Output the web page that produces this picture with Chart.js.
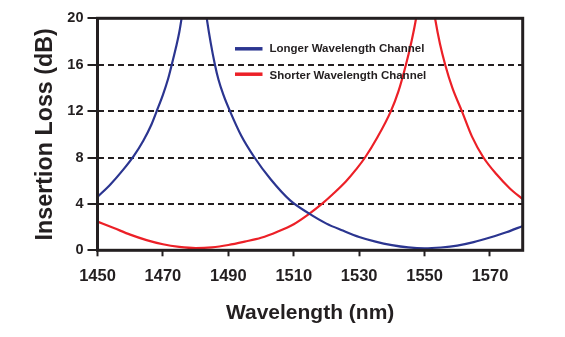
<!DOCTYPE html>
<html>
<head>
<meta charset="utf-8">
<script src="https://cdn.jsdelivr.net/npm/chart.js@4.4.1/dist/chart.umd.min.js"></script>
<style>
  html, body { margin: 0; padding: 0; background: #ffffff; }
  #wrap { width: 565px; height: 337px; }
</style>
</head>
<body>
<div id="wrap"><canvas id="c" width="565" height="337"></canvas></div>
<script>
// ---- data ----
const seriesNames = ["Longer Wavelength Channel", "Shorter Wavelength Channel"];
const xTickValues = [1450, 1470, 1490, 1510, 1530, 1550, 1570];
const yTickValues = [0, 4, 8, 12, 16, 20];

const longerWavelength = [1450, 1454, 1458, 1461, 1464, 1466.5, 1468.1, 1470, 1471.5, 1472.7, 1474, 1475, 1475.7,
  1476.5, 1477.5, 1479.4, 1481.3, 1482.4,
  1483.4, 1484.6, 1485.9, 1487, 1488.5, 1490.5, 1494, 1498, 1503, 1508.9, 1514.5, 1520, 1525, 1530,
  1535, 1540, 1545, 1550, 1555, 1560, 1565, 1570, 1575, 1580];
const longerLoss = [4.6, 5.7, 7.0, 8.1, 9.45, 10.85, 12.0, 13.4, 14.7, 16.0, 17.5, 18.8, 20.0,
  21.6, 24.4, 30, 24.6, 22.0,
  20.0, 17.9, 16.0, 14.7, 13.4, 12.0, 9.85, 8.0, 6.1, 4.3, 3.2, 2.3, 1.7, 1.15,
  0.75, 0.45, 0.25, 0.17, 0.24, 0.4, 0.7, 1.1, 1.55, 2.1];

const shorterWavelength = [1450, 1455, 1460, 1465, 1470, 1475, 1480, 1485, 1490, 1495, 1500, 1505, 1510,
  1514.5, 1518.6, 1522, 1526, 1529, 1531.8, 1535.5, 1539.7, 1542, 1544.3, 1546, 1547.4, 1548.3, 1549.2,
  1550.2, 1551.2, 1552.2, 1553.2, 1554.7, 1556.3, 1558.5, 1561.4, 1564.5, 1568, 1572, 1576, 1580];
const shorterLoss = [2.47, 1.92, 1.35, 0.88, 0.52, 0.3, 0.2, 0.26, 0.46, 0.75, 1.08, 1.6, 2.25,
  3.1, 4.0, 4.85, 5.95, 6.95, 8.0, 9.7, 12.0, 13.7, 16.0, 18.0, 20.0, 21.8, 25,
  30, 25, 21.8, 20.0, 17.8, 16.0, 14.0, 12.0, 9.8, 8.0, 6.55, 5.35, 4.4];

// ---- styling ----
const INK = '#231f20';
const BLUE = '#2b3590';
const RED = '#ec2027';
const FONT = "'Liberation Sans', Arial, Helvetica, sans-serif";

const toPoints = (xs, ys) => xs.map((x, i) => ({ x: x, y: ys[i] }));

const framePlugin = {
  id: 'frame',
  afterDatasetsDraw(chart) {
    const { ctx, chartArea: a } = chart;
    ctx.save();
    ctx.strokeStyle = INK;
    ctx.lineWidth = 3;
    ctx.setLineDash([]);
    ctx.strokeRect(a.left, a.top, a.right - a.left, a.bottom - a.top);
    ctx.restore();
  }
};

const legendPlugin = {
  id: 'insideLegend',
  afterDraw(chart) {
    const { ctx, chartArea: a } = chart;
    const rows = [
      { lineY: a.top + 30.5, textY: a.top + 30.4 },
      { lineY: a.top + 55.9, textY: a.top + 58.0 }
    ];
    ctx.save();
    chart.data.datasets.forEach((ds, i) => {
      const r = rows[i];
      const x0 = a.left + 137.5;
      ctx.strokeStyle = ds.borderColor;
      ctx.lineWidth = 3.5;
      ctx.beginPath();
      ctx.moveTo(x0, r.lineY);
      ctx.lineTo(x0 + 27.5, r.lineY);
      ctx.stroke();
      ctx.fillStyle = INK;
      ctx.font = "bold 11.5px " + FONT;
      ctx.textAlign = 'left';
      ctx.textBaseline = 'middle';
      ctx.fillText(ds.label, x0 + 34.5, r.textY);
    });
    ctx.restore();
  }
};

new Chart(document.getElementById('c'), {
  type: 'line',
  data: {
    datasets: [
      {
        label: seriesNames[0],
        data: toPoints(longerWavelength, longerLoss),
        borderColor: BLUE,
        borderWidth: 2.2,
        pointRadius: 0,
        cubicInterpolationMode: 'monotone',
        fill: false,
        clip: 0
      },
      {
        label: seriesNames[1],
        data: toPoints(shorterWavelength, shorterLoss),
        borderColor: RED,
        borderWidth: 2.2,
        pointRadius: 0,
        cubicInterpolationMode: 'monotone',
        fill: false,
        clip: 0
      }
    ]
  },
  options: {
    responsive: false,
    animation: false,
    devicePixelRatio: 1,
    layout: { padding: { top: 18.3, right: 42.3, left: 0, bottom: 0 } },
    plugins: {
      legend: { display: false },
      tooltip: { enabled: false }
    },
    scales: {
      x: {
        type: 'linear',
        min: 1450,
        max: 1580,
        afterBuildTicks: (s) => { s.ticks = xTickValues.map(v => ({ value: v })); },
        afterFit: (s) => { s.height = 86.7; },
        border: { display: false },
        grid: {
          drawOnChartArea: false,
          drawTicks: true,
          tickLength: 6,
          tickWidth: 2,
          tickColor: INK
        },
        ticks: {
          color: INK,
          font: { family: FONT, size: 16.5, weight: 'bold' },
          padding: 10,
          maxRotation: 0,
          autoSkip: false,
          callback: (v) => String(v)
        },
        title: {
          display: true,
          text: 'Wavelength (nm)',
          color: INK,
          font: { family: FONT, size: 21, weight: 'bold' },
          padding: { top: 0, bottom: 11 }
        }
      },
      y: {
        type: 'linear',
        min: 0,
        max: 20,
        afterBuildTicks: (s) => { s.ticks = yTickValues.map(v => ({ value: v })); },
        afterFit: (s) => { s.width = 97.5; },
        border: { display: false, dash: [6, 4] },
        grid: {
          color: (c) => (c.tick && (c.tick.value === 0 || c.tick.value === 20)) ? 'rgba(0,0,0,0)' : INK,
          lineWidth: 2,
          drawTicks: true,
          tickLength: 10,
          tickWidth: 2,
          tickColor: INK,
          tickBorderDash: []
        },
        ticks: {
          color: INK,
          font: { family: FONT, size: 14.5, weight: 'bold' },
          padding: 4,
          autoSkip: false,
          callback: (v) => String(v)
        },
        title: {
          display: true,
          text: 'Insertion Loss (dB)',
          color: INK,
          font: { family: FONT, size: 23.3, weight: 'bold' },
          padding: { top: 31.5, bottom: 0 }
        }
      }
    }
  },
  plugins: [framePlugin, legendPlugin]
});
</script>
</body>
</html>
